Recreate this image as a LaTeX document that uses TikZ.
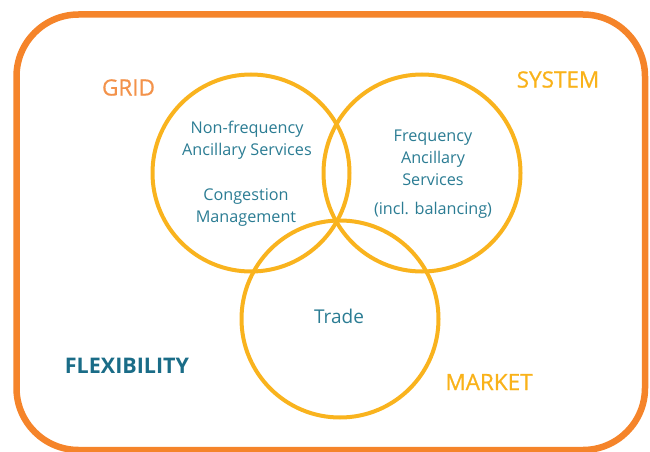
\documentclass[tikz,border=0pt]{standalone}
\usepackage{fontspec}
\setmainfont{Open Sans}
\newfontface\headfont{Open Sans}[FakeBold=0.8]
\usepackage{tikz}
\definecolor{frameorange}{HTML}{F5842A}
\definecolor{gridorange}{HTML}{F3924A}
\definecolor{ringyellow}{HTML}{F9B31E}
\definecolor{labelyellow}{HTML}{F9B21A}
\definecolor{flexteal}{HTML}{1A6C87}
\definecolor{textteal}{HTML}{2B7C93}

\begin{document}
\begin{tikzpicture}[x=1pt,y=-1pt,
  ring/.style={draw=ringyellow,line width=4pt,circle,minimum size=197pt,inner sep=0pt},
  head/.style={font=\headfont\fontsize{22.5}{26}\selectfont},
  body/.style={color=textteal,align=center,font=\fontsize{16.2}{22}\selectfont}]
\useasboundingbox (0,0) rectangle (650,452);
\draw [line width=6.5pt,color=frameorange,rounded corners=62pt] (16.5,14.5) rectangle (645,450);
\node [ring] (grid) at (251,173) {};
\node [ring] (system) at (422,173) {};
\node [ring] (market) at (340,319) {};
\node [head,color=gridorange] (gridlabel) at (128.5,87.5) {GRID};
\node [head,color=labelyellow] (systemlabel) at (558,79.5) {SYSTEM};
\node [head,color=labelyellow] (marketlabel) at (489,382) {MARKET};
\node [head,color=flexteal,font=\fontsize{21.5}{24}\selectfont\bfseries] (flexlabel) at (127,366) {FLEXIBILITY};
\node [body] (nonfreq) at (247,140) {Non-frequency\\Ancillary Services};
\node [body] (congestion) at (246,207.5) {Congestion\\Management};
\node [body] (freq) at (433,158) {Frequency\\Ancillary\\Services};
\node [body] (balancing) at (433,210) {(incl. balancing)};
\node [body,font=\fontsize{19}{22}\selectfont] (trade) at (339,316) {Trade};
\end{tikzpicture}
\end{document}
